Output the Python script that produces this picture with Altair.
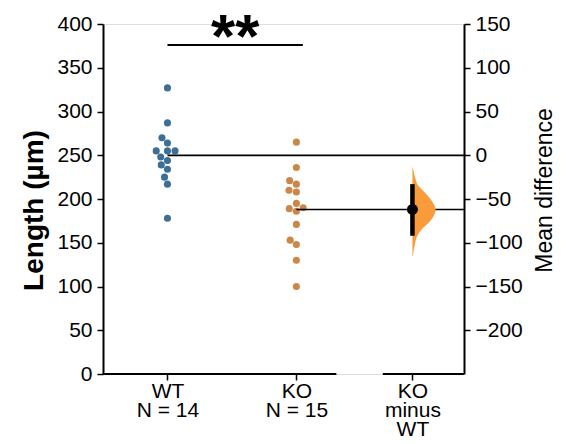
import altair as alt
import pandas as pd
import numpy as np

# ---- data ----
groups = ["WT", "KO"]
group_pos = [1, 2]
wt_vals = [327, 287, 270, 264, 255, 255, 255, 248, 244, 239, 234, 225, 217, 178]
ko_vals = [265, 236, 221, 217, 210, 208, 195, 190, 189, 186, 171, 153, 148, 130, 100]
diff_label = ["KO", "minus", "WT"]
diff_pos = 2.9
ci_low, ci_high = -92, -33
kde_y = [-14, -26, -33, -41, -49, -56, -62, -69, -77, -84, -92, -101, -115]
kde_d = [0.02, 0.12, 0.21, 0.48, 0.75, 0.92, 1.0, 0.92, 0.7, 0.42, 0.21, 0.11, 0.02]
kde_width = 0.18
sig_text = "**"
sig_y = 376
colors = ["#3d6e96", "#cb8748"]
violin_color = "#f99b3a"

W, H = 361, 350
x_dom = [0.5, 3.3]
px_x = W / (x_dom[1] - x_dom[0])
px_y = H / 400.0


def swarm(vals, d=7.6):
    placed = []
    offs = [0.0] * len(vals)
    for i in sorted(range(len(vals)), key=lambda k: vals[k]):
        y = vals[i] * px_y
        near = [(py, px) for py, px in placed if abs(py - y) < d]
        cands = [0.0]
        for py, px in near:
            dx = float(np.sqrt(d * d - (py - y) ** 2))
            cands += [px - dx, px + dx]
        cands.sort(key=lambda c: (abs(c), c))
        for c in cands:
            if all((c - px) ** 2 + (y - py) ** 2 >= d * d - 1e-6 for py, px in near):
                offs[i] = c
                break
        placed.append((y, offs[i]))
    return offs


rows = []
for g, p, vals in zip(groups, group_pos, [wt_vals, ko_vals]):
    for v, o in zip(vals, swarm(vals)):
        rows.append({"group": g, "x": p + o / px_x, "y": v})
dots = pd.DataFrame(rows)

means = [float(np.mean(wt_vals)), float(np.mean(ko_vals))]
diff = means[1] - means[0]
mean_df = pd.DataFrame({"x": group_pos, "x2": [x_dom[1]] * 2, "y": means})
base_df = pd.DataFrame({"x": [x_dom[0], 2.67], "x2": [2.31, x_dom[1]], "y": [0, 0]})
sig_df = pd.DataFrame({"x": [group_pos[0]], "x2": [2.05], "y": [sig_y], "t": [sig_text]})
vio_df = pd.DataFrame({"d": kde_y, "x": [diff_pos + k * kde_width for k in kde_d], "x0": [diff_pos] * len(kde_y)})
ci_df = pd.DataFrame({"x": [diff_pos], "lo": [ci_low], "hi": [ci_high], "m": [diff]})

labels = [[groups[0], f"N = {len(wt_vals)}"], [groups[1], f"N = {len(ko_vals)}"], diff_label]
def js(a):
    return "[" + ",".join("'" + s + "'" for s in a) + "]"
label_expr = (f"datum.value == {group_pos[0]} ? {js(labels[0])} : "
              f"datum.value == {group_pos[1]} ? {js(labels[1])} : {js(labels[2])}")

xaxis = alt.Axis(values=[group_pos[0], group_pos[1], diff_pos], labelExpr=label_expr, title=None,
                 domain=False, grid=False, tickSize=6, tickWidth=1.5, tickColor="black",
                 labelFontSize=21, labelLineHeight=19, labelPadding=0, labelColor="black")
xs = alt.Scale(domain=x_dom)
ly = alt.Scale(domain=[0, 400])
ry = alt.Scale(domain=[-250, 150])


def X(f="x"):
    return alt.X(f + ":Q", scale=xs, axis=xaxis)


left_axis = alt.Axis(values=list(range(0, 401, 50)), title="Length (µm)", orient="left",
                     grid=False, tickSize=6, tickWidth=1.5, domainWidth=2, domainColor="black",
                     tickColor="black", labelFontSize=21, labelColor="black", labelPadding=5,
                     titleFontSize=28, titleFontWeight="bold", titleColor="black", titlePadding=8,
                     titleY=186)
right_axis = alt.Axis(values=list(range(-200, 151, 50)), title="Mean difference", orient="right",
                      grid=False, tickSize=6, tickWidth=1.5, domainWidth=2, domainColor="black",
                      tickColor="black", labelFontSize=21, labelColor="black", labelPadding=5,
                      titleFontSize=23, titleFontWeight="normal", titleColor="black",
                      titleAngle=270, titleBaseline="top", titlePadding=11, titleY=166)

pts = alt.Chart(dots).mark_circle(size=50, opacity=1).encode(
    x=X(), y=alt.Y("y:Q", scale=ly, axis=left_axis),
    color=alt.Color("group:N", scale=alt.Scale(domain=groups, range=colors), legend=None))

mean_lines = alt.Chart(mean_df).mark_rule(color="black", strokeWidth=1.6).encode(
    x=X(), x2="x2:Q", y=alt.Y("y:Q", scale=ly, axis=None))

base_lines = alt.Chart(base_df).mark_rule(color="black", strokeWidth=2).encode(
    x=X(), x2="x2:Q", y=alt.Y("y:Q", scale=ly, axis=None))

sig_line = alt.Chart(sig_df).mark_rule(color="black", strokeWidth=2).encode(
    x=X(), x2="x2:Q", y=alt.Y("y:Q", scale=ly, axis=None))

sig_txt = alt.Chart(sig_df).mark_text(fontSize=62, fontWeight="bold", dy=12, baseline="alphabetic",
                                      align="center", color="black").encode(
    x=alt.X("xm:Q", scale=xs, axis=xaxis), y=alt.Y("y:Q", scale=ly, axis=None), text="t:N"
).transform_calculate(xm="(datum.x + datum.x2) / 2")

violin = alt.Chart(vio_df).mark_area(orient="horizontal", interpolate="monotone",
                                     color=violin_color, opacity=1).encode(
    y=alt.Y("d:Q", scale=ry, axis=right_axis), x=X(), x2="x0:Q")

ci_bar = alt.Chart(ci_df).mark_rule(color="black", strokeWidth=4.5).encode(
    x=X(), y=alt.Y("lo:Q", scale=ry, axis=None), y2="hi:Q")

ci_pt = alt.Chart(ci_df).mark_circle(size=120, opacity=1, color="black").encode(
    x=X(), y=alt.Y("m:Q", scale=ry, axis=None))

chart = alt.layer(pts, mean_lines, base_lines, sig_line, sig_txt, violin, ci_bar, ci_pt).resolve_scale(
    y="independent"
).properties(
    width=W, height=H,
    autosize=alt.AutoSizeParams(type="none"),
    padding={"left": 95, "top": 16, "right": 104, "bottom": 62},
).configure_view(stroke=None).configure(font="Liberation Sans")

chart.save("out.html", embed_options={"renderer": "svg", "actions": False})
